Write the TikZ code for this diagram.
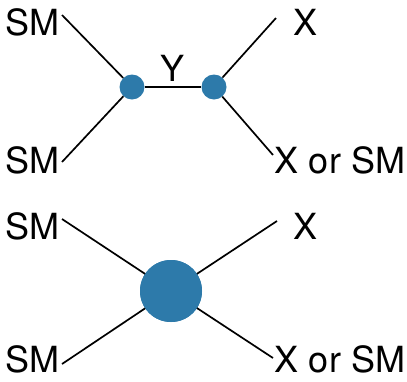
\documentclass[tikz,border=0pt]{standalone}
\usepackage{fontspec}
\setmainfont{TeX Gyre Heros}
\definecolor{vertexblue}{RGB}{45,122,170}
\tikzset{
  lbl/.style={inner sep=0pt, font=\fontsize{36}{40}\selectfont},
  vtx/.style={circle, fill=vertexblue, draw=none, inner sep=0pt, minimum size=#1},
  leg/.style={line width=1.7pt, black}
}
\begin{document}
\begin{tikzpicture}[x=1pt, y=-1pt]
\useasboundingbox (0,0) rectangle (407,381);

% s-channel exchange of Y
\coordinate (a1) at (62,15);
\coordinate (a2) at (62,162);
\coordinate (a3) at (276,18);
\coordinate (a4) at (273,155);
\node[vtx=25pt] (v1) at (132,87) {};
\node[vtx=25pt] (v2) at (214,87) {};
\draw[leg] (a1) -- (v1) -- (a2);
\draw[leg] (v1) -- (v2);
\draw[leg] (a3) -- (v2) -- (a4);
\node[lbl] (t1) at (32.5,22.5) {SM};
\node[lbl] (t2) at (32.5,160) {SM};
\node[lbl] (t3) at (306,22.5) {X};
\node[lbl] (t4) at (340,160) {X or SM};
\node[lbl] (ty) at (173,68.5) {Y};

% contact interaction
\coordinate (b1) at (62,219);
\coordinate (b2) at (62,364);
\coordinate (b3) at (277,221);
\coordinate (b4) at (273,358);
\node[vtx=62pt] (c) at (171,291) {};
\draw[leg] (b1) -- (c.center);
\draw[leg] (b2) -- (c.center);
\draw[leg] (b3) -- (c.center);
\draw[leg] (b4) -- (c.center);
\node[vtx=62pt] (c2) at (c) {};
\node[lbl] (s1) at (32.5,226) {SM};
\node[lbl] (s2) at (32.5,359.5) {SM};
\node[lbl] (s3) at (306,226) {X};
\node[lbl] (s4) at (340,359.5) {X or SM};
\end{tikzpicture}
\end{document}
